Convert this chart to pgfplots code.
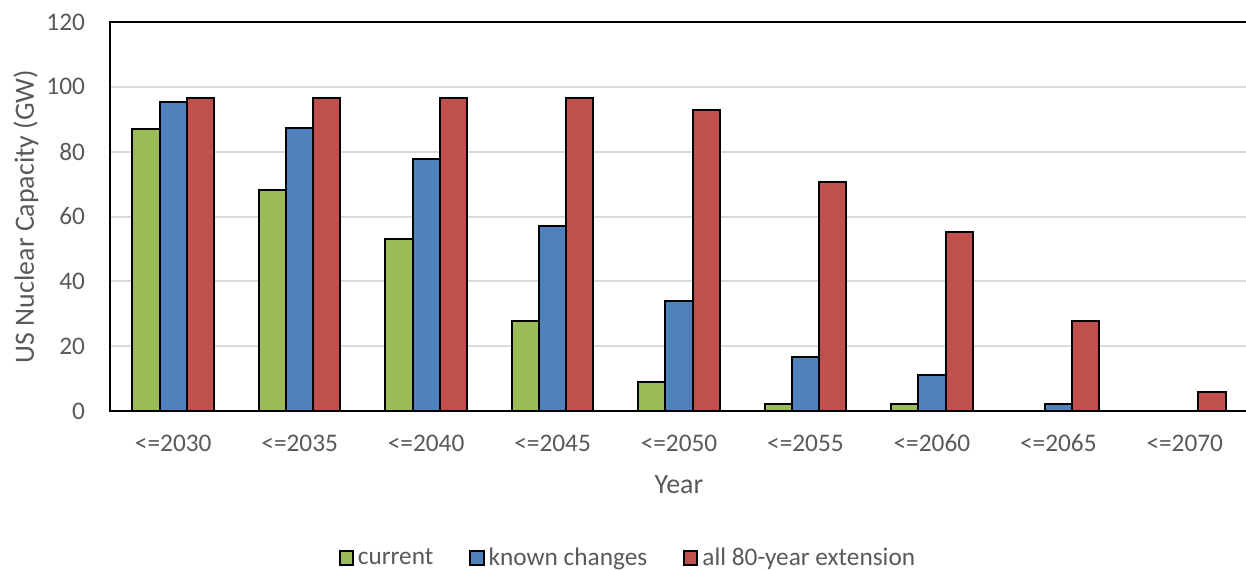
\documentclass[border=0pt]{standalone}
\usepackage{pgfplots}
\pgfplotsset{compat=1.18}
\usepackage{fontspec}
\setmainfont{Carlito}
\definecolor{cgreen}{HTML}{9BBB59}
\definecolor{cblue}{HTML}{4F81BD}
\definecolor{cred}{HTML}{C0504D}
\definecolor{ctext}{HTML}{595959}
\definecolor{cgrid}{HTML}{D9D9D9}
\begin{document}
\begin{tikzpicture}
\begin{axis}[
  name=ax,
  scale only axis,
  width=569bp, height=194.5bp,
  xmin=-0.5, xmax=8.5, ymin=0, ymax=120,
  ytick={0,20,...,120},
  xtick={0,...,8},
  xticklabels={<=2030,<=2035,<=2040,<=2045,<=2050,<=2055,<=2060,<=2065,<=2070},
  major tick length=0pt,
  axis line style={black, line width=1bp},
  ymajorgrids,
  major grid style={cgrid, line width=1bp},
  /pgf/number format/assume math mode=true,
  tick label style={font=\fontsize{12.7}{15}\selectfont, text=ctext},
  xticklabel style={yshift=-8.3bp},
  yticklabel style={xshift=-9bp},
  xlabel={Year}, ylabel={US Nuclear Capacity (GW)},
  label style={font=\fontsize{14}{16}\selectfont, text=ctext},
  xlabel style={at={(axis description cs:0.5,-0.19)}, anchor=center},
  ylabel style={at={(axis description cs:-0.0739,0.5)}, anchor=center, rotate=0},
  ybar=0pt, bar width=13.6bp,
  legend columns=3,
  legend style={draw=none, fill=none, at={(axis description cs:0.456,-0.378)}, anchor=center,
    font=\fontsize{12.7}{15}\selectfont, text=ctext,
    /tikz/every even column/.append style={column sep=16bp}},
  legend image code/.code={\draw[#1, line width=1bp, draw=black] (0bp,-3.4bp) rectangle (6.6bp,3.4bp);},
]
\addplot[fill=cgreen, draw=black, line width=1bp] coordinates {(0,87.0) (1,68.2) (2,53.1) (3,27.8) (4,8.9) (5,2.2) (6,2.2)};
\addplot[fill=cblue, draw=black, line width=1bp] coordinates {(0,95.3) (1,87.3) (2,77.7) (3,57.1) (4,33.9) (5,16.7) (6,11.0) (7,2.2)};
\addplot[fill=cred, draw=black, line width=1bp] coordinates {(0,96.5) (1,96.5) (2,96.5) (3,96.5) (4,92.8) (5,70.6) (6,55.2) (7,27.8) (8,5.9)};
\legend{current, known changes, all 80-year extension}
\end{axis}
\pgfresetboundingbox
\path[use as bounding box] ([shift={(-55bp,-79bp)}]ax.south west) rectangle ([shift={(-1bp,11bp)}]ax.north east);
\end{tikzpicture}
\end{document}
